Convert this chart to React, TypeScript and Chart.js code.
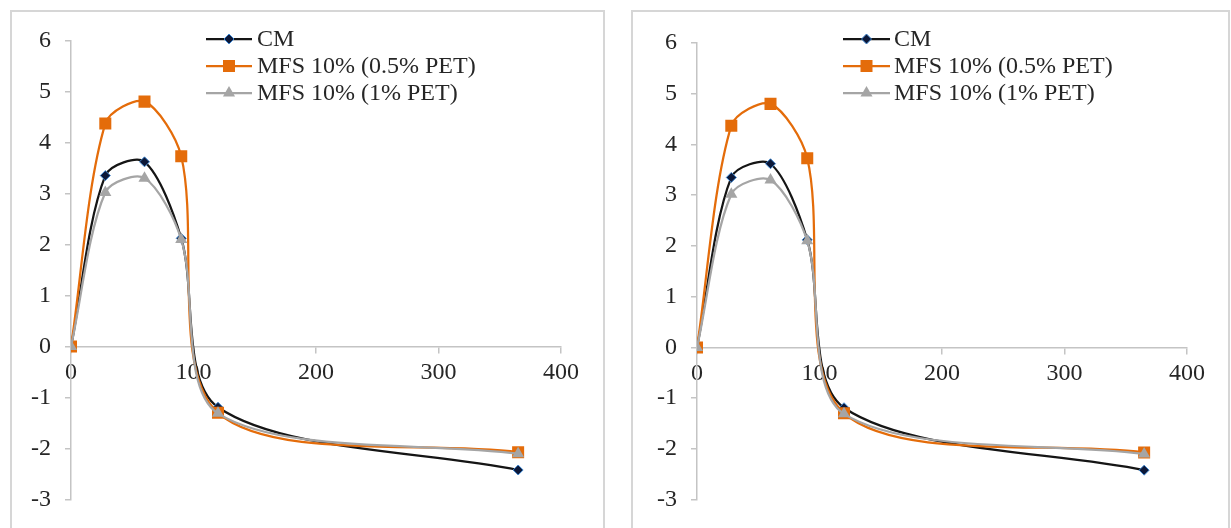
import React, { useEffect, useRef } from 'react';
import { Chart, registerables } from 'chart.js';

Chart.register(...registerables);

// ---- data ----
const days = [0, 28, 60, 90, 120, 365];
const cmValues = [0, 3.35, 3.62, 2.12, -1.19, -2.42];
const pet05Values = [0, 4.37, 4.8, 3.73, -1.3, -2.07];
const pet1Values = [0, 3.02, 3.3, 2.1, -1.31, -2.1];
const seriesLabels = ['CM', 'MFS 10% (0.5% PET)', 'MFS 10% (1% PET)'];
const xTickValues = [0, 100, 200, 300, 400];
const yTickValues = [-3, -2, -1, 0, 1, 2, 3, 4, 5, 6];

const FONT = '"Liberation Serif", "Times New Roman", serif';
const CM_LINE = '#151515';
const CM_FILL = '#0c1838';
const CM_EDGE = '#3f86cf';
const ORANGE = '#E46C0A';
const GRAY = '#A5A5A5';
const AXIS = '#c4c4c4';
const TEXT = '#262626';
const TENSION = 0.3;

type Geo = {
  canvasLeft: number; canvasTop: number; canvasW: number; canvasH: number;
  areaLeft: number; areaRight: number; areaTop: number; areaBottom: number;
  legendX1: number; legendX2: number; legendText: number; legendRows: number[];
};

function drawMarker(ctx: CanvasRenderingContext2D, kind: number, x: number, y: number) {
  ctx.save();
  ctx.beginPath();
  if (kind === 0) {
    const r = 5;
    ctx.moveTo(x, y - r); ctx.lineTo(x + r, y); ctx.lineTo(x, y + r); ctx.lineTo(x - r, y); ctx.closePath();
    ctx.fillStyle = CM_FILL; ctx.fill();
    ctx.strokeStyle = CM_EDGE; ctx.lineWidth = 1; ctx.stroke();
  } else if (kind === 1) {
    ctx.rect(x - 6, y - 6, 12, 12);
    ctx.fillStyle = ORANGE; ctx.fill();
  } else {
    const r = 7;
    ctx.moveTo(x, y - r);
    ctx.lineTo(x + r * 0.866, y + r * 0.5);
    ctx.lineTo(x - r * 0.866, y + r * 0.5);
    ctx.closePath();
    ctx.fillStyle = GRAY; ctx.fill();
  }
  ctx.restore();
}

function makeLegendPlugin(g: Geo) {
  return {
    id: 'customLegend',
    afterDraw(chart: any) {
      const ctx: CanvasRenderingContext2D = chart.ctx;
      const colors = [CM_LINE, ORANGE, GRAY];
      const x1 = g.legendX1 - g.canvasLeft;
      const x2 = g.legendX2 - g.canvasLeft;
      const tx = g.legendText - g.canvasLeft;
      seriesLabels.forEach((label, i) => {
        const y = g.legendRows[i] - g.canvasTop;
        ctx.save();
        ctx.strokeStyle = colors[i];
        ctx.lineWidth = 2.25;
        ctx.beginPath(); ctx.moveTo(x1, y); ctx.lineTo(x2, y); ctx.stroke();
        drawMarker(ctx, i, (x1 + x2) / 2, y);
        ctx.fillStyle = TEXT;
        ctx.font = '24px ' + FONT;
        ctx.textBaseline = 'middle';
        ctx.textAlign = 'left';
        ctx.fillText(label, tx, y + 1);
        ctx.restore();
      });
    },
  };
}

function toPoints(vals: number[]) {
  return days.map((d, i) => ({ x: d, y: vals[i] }));
}

function ChartPanel({ g }: { g: Geo }) {
  const ref = useRef<HTMLCanvasElement | null>(null);
  useEffect(() => {
    if (!ref.current) return;
    const yAxisW = 50;
    const chart = new Chart(ref.current, {
      type: 'line',
      data: {
        datasets: [
          {
            label: seriesLabels[0], data: toPoints(cmValues), order: 3,
            borderColor: CM_LINE, borderWidth: 2.25, tension: TENSION,
            pointStyle: 'rectRot', pointRadius: 5, pointBackgroundColor: CM_FILL,
            pointBorderColor: CM_EDGE, pointBorderWidth: 1,
          },
          {
            label: seriesLabels[1], data: toPoints(pet05Values), order: 2,
            borderColor: ORANGE, borderWidth: 2.25, tension: TENSION,
            pointStyle: 'rect', pointRadius: 8.5, pointBackgroundColor: ORANGE,
            pointBorderColor: ORANGE, pointBorderWidth: 0,
          },
          {
            label: seriesLabels[2], data: toPoints(pet1Values), order: 1,
            borderColor: GRAY, borderWidth: 2.25, tension: TENSION,
            pointStyle: 'triangle', pointRadius: 7, pointBackgroundColor: GRAY,
            pointBorderColor: GRAY, pointBorderWidth: 0,
          },
        ],
      },
      options: {
        animation: false,
        responsive: false,
        events: [],
        layout: {
          padding: {
            left: g.areaLeft - g.canvasLeft - yAxisW,
            right: g.canvasLeft + g.canvasW - g.areaRight,
            top: g.areaTop - g.canvasTop,
            bottom: g.canvasTop + g.canvasH - g.areaBottom,
          },
        },
        plugins: { legend: { display: false }, tooltip: { enabled: false } },
        scales: {
          x: {
            type: 'linear',
            position: { y: 0 } as any,
            min: 0, max: 400,
            afterBuildTicks: (s: any) => { s.ticks = xTickValues.map((v) => ({ value: v })); },
            grid: { drawOnChartArea: false, drawTicks: true, tickLength: 6, color: AXIS, lineWidth: 1.5 },
            border: { display: true, color: AXIS, width: 1.5 },
            ticks: { color: TEXT, font: { family: FONT, size: 24 }, padding: 6, maxRotation: 0 },
          },
          y: {
            type: 'linear',
            position: 'left',
            min: -3, max: 6,
            afterBuildTicks: (s: any) => { s.ticks = yTickValues.map((v) => ({ value: v })); },
            afterFit: (s: any) => { s.width = yAxisW; },
            grid: { drawOnChartArea: false, drawTicks: true, tickLength: 6, color: AXIS, lineWidth: 1.5 },
            border: { display: true, color: AXIS, width: 1.5 },
            ticks: { color: TEXT, font: { family: FONT, size: 24 }, padding: 14 },
          },
        },
      },
      plugins: [makeLegendPlugin(g)],
    } as any);
    return () => chart.destroy();
  }, []);
  return (
    <canvas
      ref={ref}
      width={g.canvasW}
      height={g.canvasH}
      style={{ position: 'absolute', left: g.canvasLeft, top: g.canvasTop, width: g.canvasW, height: g.canvasH }}
    />
  );
}

const leftGeo: Geo = {
  canvasLeft: 12, canvasTop: 12, canvasW: 590, canvasH: 516,
  areaLeft: 71, areaRight: 561, areaTop: 35, areaBottom: 504,
  legendX1: 206, legendX2: 252, legendText: 257, legendRows: [39, 66, 93],
};
const rightGeo: Geo = {
  canvasLeft: 633, canvasTop: 12, canvasW: 596, canvasH: 516,
  areaLeft: 697, areaRight: 1187, areaTop: 43, areaBottom: 504,
  legendX1: 843, legendX2: 890, legendText: 894, legendRows: [39, 66, 93],
};

export default function App() {
  useEffect(() => {
    document.body.style.margin = '0';
    document.body.style.background = '#ffffff';
  }, []);
  const panelStyle = (left: number, width: number): React.CSSProperties => ({
    position: 'absolute', left, top: 10, width, height: 540,
    border: '2px solid #d6d6d6', boxSizing: 'border-box', background: '#fff',
  });
  return (
    <div style={{ position: 'relative', width: 1231, height: 528, overflow: 'hidden', background: '#fff' }}>
      <div style={panelStyle(10, 595)} />
      <div style={panelStyle(631, 599)} />
      <ChartPanel g={leftGeo} />
      <ChartPanel g={rightGeo} />
    </div>
  );
}
